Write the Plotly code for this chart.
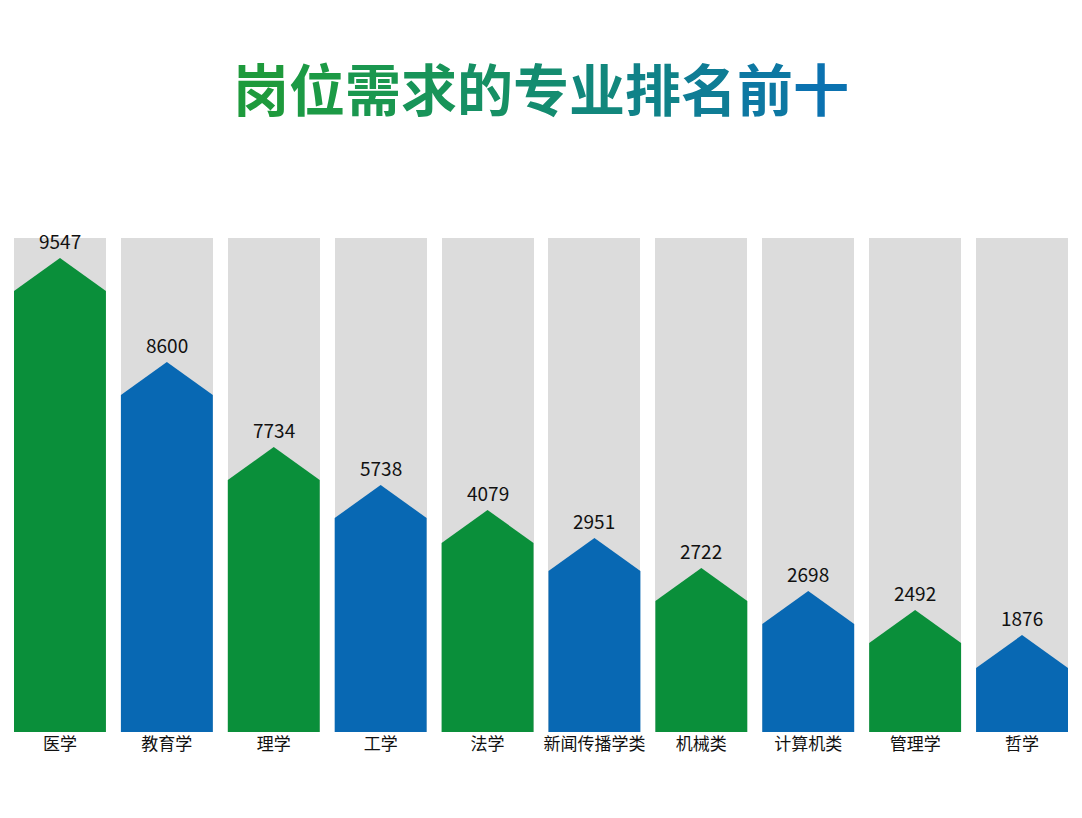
import plotly.graph_objects as go

majors = ["医学", "教育学", "理学", "工学", "法学", "新闻传播学类", "机械类", "计算机类", "管理学", "哲学"]
values = [9547, 8600, 7734, 5738, 4079, 2951, 2722, 2698, 2492, 1876]
# drawn heights of the arrow bars as they appear in the infographic (not linear in value)
shape_heights = [474, 370, 285, 247, 222, 194, 164, 141, 122, 97]
full_height = 494
colors = ["#0a8f3a", "#0868b3"]

half = 0.43
shoulder = 33

fig = go.Figure()
fig.add_trace(go.Bar(x=list(range(len(majors))), y=[full_height] * len(majors),
                     width=2 * half, marker_color="#dcdcdc", marker_line_width=0,
                     hoverinfo="skip", showlegend=False))

for i, (h, v) in enumerate(zip(shape_heights, values)):
    fig.add_trace(go.Scatter(
        x=[i - half, i - half, i, i + half, i + half, i - half],
        y=[0, h - shoulder, h, h - shoulder, 0, 0],
        fill="toself", fillcolor=colors[i % 2], mode="lines", line_width=0,
        hoverinfo="skip", showlegend=False))
    fig.add_annotation(x=i, y=h, text=str(v), showarrow=False, yanchor="bottom", yshift=2,
                       font=dict(size=19, color="#111"))

title = "岗位需求的专业排名前十"
grad = ["#1e9a3c", "#1c9a45", "#1a974f", "#189459", "#169064", "#148c70", "#12877c", "#108288", "#0f7d95", "#0d78a2", "#0b72b0"]
title_html = "".join(f'<span style="color:{c}">{ch}</span>' for ch, c in zip(title, grad))

plot_h = 818 - 230 - 94
fig.add_annotation(x=0.5, y=(818 - 94 - 78) / plot_h, xref="paper", yref="paper",
                   text=f"<b>{title_html}</b>", showarrow=False,
                   font=dict(size=56, family="Noto Sans CJK SC"),
                   xanchor="center", yanchor="middle")

fig.update_layout(
    width=1082, height=818, margin=dict(l=6, r=22, t=230, b=94, autoexpand=False),
    paper_bgcolor="white", plot_bgcolor="white",
    font=dict(family="Noto Sans CJK SC"),
    bargap=0,
    xaxis=dict(range=[-half, len(majors) - 1 + half], tickvals=list(range(len(majors))),
               ticktext=majors, showgrid=False, zeroline=False, showline=False,
               tickfont=dict(size=17, color="#111"), ticks=""),
    yaxis=dict(range=[0, full_height], visible=False, fixedrange=True),
)

fig.write_html("out.html")
